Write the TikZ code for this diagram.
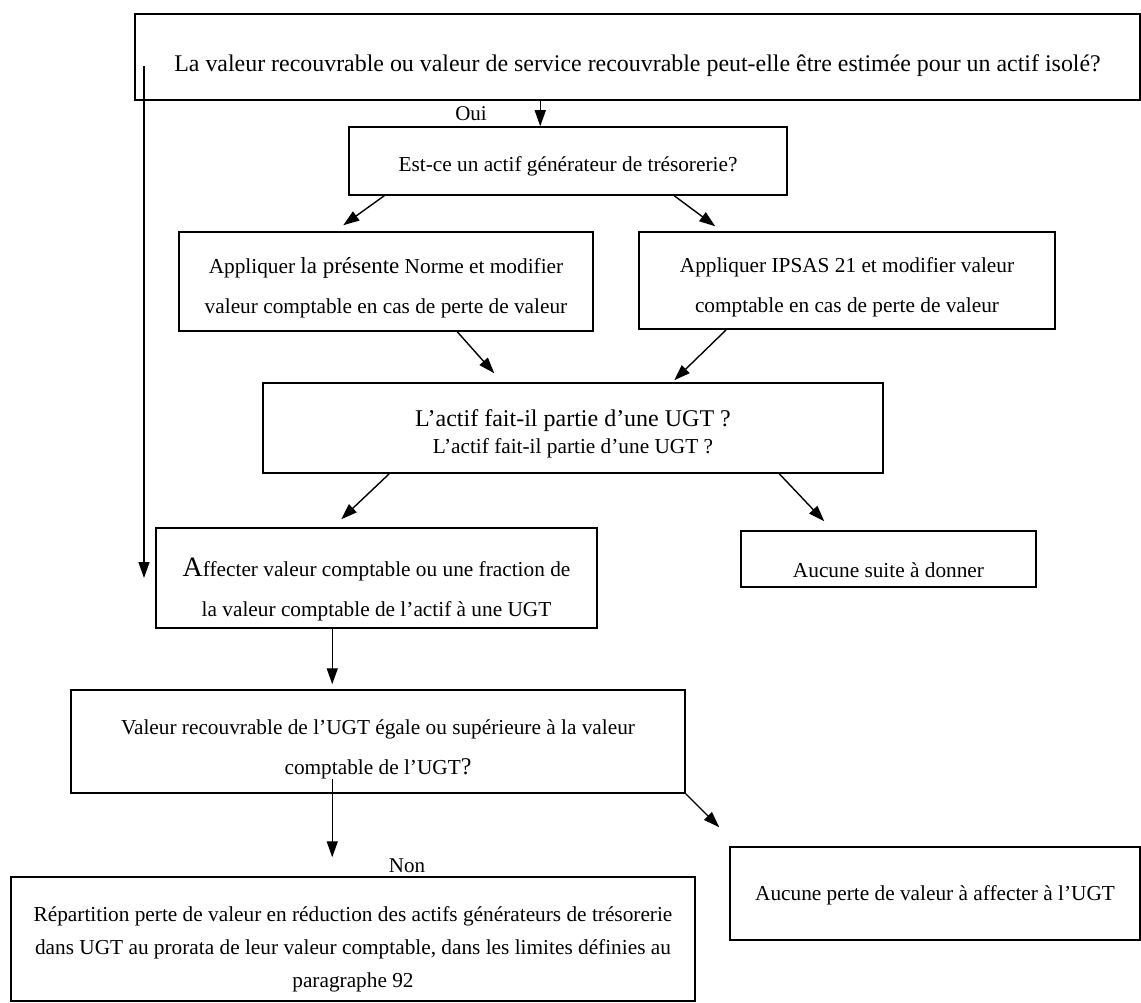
\documentclass[tikz,border=0pt]{standalone}
\usepackage{fontspec}
\setmainfont{Liberation Serif}
\usetikzlibrary{arrows.meta}
\newcommand{\dn}[2]{\raisebox{-#1pt}[0pt][0pt]{\begin{tabular}{@{}c@{}}#2\end{tabular}}}
\begin{document}
\begin{tikzpicture}[x=1pt,y=-1pt,
  box/.style={draw,line width=1.5pt,inner sep=0pt,align=center,font=\fontsize{21.3}{40}\selectfont},
  arr/.style={line width=1.4pt,-{Triangle[length=16pt,width=11pt]}},
  lbl/.style={inner sep=0pt,font=\fontsize{21}{24}\selectfont}]
\useasboundingbox (0,0) rectangle (1141,1003);
\node[box,minimum width=1005,minimum height=86,font=\fontsize{23.9}{28}\selectfont] (b1) at (637.5,57) {\dn{15}{La valeur recouvrable ou valeur de service recouvrable peut-elle être estimée pour un actif isolé?}};
\node[box,minimum width=438,minimum height=68] (b2) at (568,161) {\dn{8}{Est-ce un actif générateur de trésorerie?}};
\node[box,minimum width=414,minimum height=99] (b3) at (386,281.5) {\dn{8.8}{Appliquer {\fontsize{23}{40}\selectfont la présente} Norme et modifier\\valeur comptable en cas de perte de valeur}};
\node[box,minimum width=416,minimum height=97] (b4) at (847,280.5) {\dn{9}{Appliquer IPSAS 21 et modifier valeur\\comptable en cas de perte de valeur}};
\node[box,minimum width=620,minimum height=90] (b5) at (573,428) {\dn{9}{{\fontsize{24}{28}\selectfont L’actif fait-il partie d’une UGT ?}\\[-13pt]L’actif fait-il partie d’une UGT ?}};
\node[box,minimum width=441,minimum height=100] (b6) at (376.5,578) {\dn{16}{{\fontsize{28}{40}\selectfont A}ffecter valeur comptable ou une fraction de\\la valeur comptable de l’actif à une UGT}};
\node[box,minimum width=295,minimum height=56] (b7) at (888.5,559) {\dn{16}{Aucune suite à donner}};
\node[box,minimum width=614,minimum height=103] (b8) at (378,741.5) {\dn{10}{Valeur recouvrable de l’UGT égale ou supérieure à la valeur\\comptable de l’UGT{\fontsize{24}{40}\selectfont ?}}};
\node[box,minimum width=684,minimum height=124,font=\fontsize{21.3}{33}\selectfont] (b9) at (353,939) {\dn{14.5}{Répartition perte de valeur en réduction des actifs générateurs de trésorerie\\dans UGT au prorata de leur valeur comptable, dans les limites définies au\\paragraphe 92}};
\node[box,minimum width=410,minimum height=93] (b10) at (935,893.5) {\dn{4}{Aucune perte de valeur à affecter à l’UGT}};
\node[lbl] (oui) at (471,114) {Oui};
\node[lbl] (non) at (407,866) {Non};
\coordinate (ls) at (144,66);
\draw[arr] ([xshift=406]b1.south west) -- ([xshift=406]b1.south west |- b2.north);
\draw[arr] (ls) -- (ls |- b6.west);
\draw[arr] ([xshift=36]b2.south west) -- ([xshift=165,yshift=6]b3.north west);
\draw[arr] ([xshift=326]b2.south west) -- ([xshift=77,yshift=5]b4.north west);
\draw[arr] ([xshift=279]b3.south west) -- ([xshift=232,yshift=9]b5.north west);
\draw[arr] ([xshift=88]b4.south west) -- ([xshift=412,yshift=2]b5.north west);
\draw[arr] ([xshift=127]b5.south west) -- ([xshift=186,yshift=8]b6.north west);
\draw[arr] ([xshift=517]b5.south west) -- ([xshift=84,yshift=9]b7.north west);
\draw[arr] ([xshift=177]b6.south west) -- ([xshift=262,yshift=5]b8.north west);
\draw[arr] ([xshift=262,yshift=15]b8.south west) -- ([xshift=322,yshift=19]b9.north west);
\draw[arr] (b8.south east) -- ([xshift=-10,yshift=19]b10.north west);
\end{tikzpicture}
\end{document}
